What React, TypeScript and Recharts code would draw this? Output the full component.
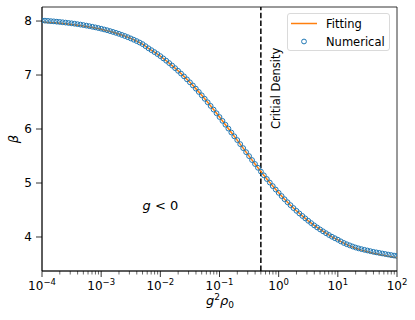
import React from 'react';
import { ComposedChart, Line, Scatter, XAxis, YAxis, ReferenceLine, ReferenceArea, ReferenceDot } from 'recharts';

// log10 of g^2 rho_0 for the fitting curve
const log10Fit = [
  -4.0, -3.9, -3.8, -3.7, -3.6, -3.5, -3.4, -3.3, -3.2, -3.1,
  -3.0, -2.9, -2.8, -2.7, -2.6, -2.5, -2.4, -2.3, -2.2, -2.1,
  -2.0, -1.9, -1.8, -1.7, -1.6, -1.5, -1.4, -1.3, -1.2, -1.1,
  -1.0, -0.9, -0.8, -0.7, -0.6, -0.5, -0.4, -0.3, -0.2, -0.1,
  0.0, 0.1, 0.2, 0.3, 0.4, 0.5, 0.6, 0.7, 0.8, 0.9,
  1.0, 1.1, 1.2, 1.3, 1.4, 1.5, 1.6, 1.7, 1.8, 1.9, 2.0,
];

const fitting = [
  7.980, 7.975, 7.968, 7.959, 7.949, 7.938, 7.924, 7.909, 7.891, 7.871,
  7.848, 7.822, 7.792, 7.759, 7.721, 7.678, 7.629, 7.573, 7.495, 7.425,
  7.350, 7.265, 7.175, 7.078, 6.975, 6.865, 6.748, 6.624, 6.495, 6.360,
  6.222, 6.080, 5.935, 5.795, 5.646, 5.498, 5.352, 5.211, 5.074, 4.943,
  4.818, 4.699, 4.589, 4.485, 4.390, 4.300, 4.215, 4.140, 4.070, 4.003,
  3.945, 3.885, 3.835, 3.792, 3.757, 3.727, 3.700, 3.677, 3.655, 3.635, 3.615,
];

// log10 of g^2 rho_0 for the numerical points
const log10Num = [
  -4.00, -3.95, -3.90, -3.85, -3.80, -3.75, -3.70, -3.65, -3.60, -3.55,
  -3.50, -3.45, -3.40, -3.35, -3.30, -3.25, -3.20, -3.15, -3.10, -3.05,
  -3.00, -2.95, -2.90, -2.85, -2.80, -2.75, -2.70, -2.65, -2.60, -2.55,
  -2.50, -2.45, -2.40, -2.35, -2.30, -2.25, -2.20, -2.15, -2.10, -2.05,
  -2.00, -1.95, -1.90, -1.85, -1.80, -1.75, -1.70, -1.65, -1.60, -1.55,
  -1.50, -1.45, -1.40, -1.35, -1.30, -1.25, -1.20, -1.15, -1.10, -1.05,
  -1.00, -0.95, -0.90, -0.85, -0.80, -0.75, -0.70, -0.65, -0.60, -0.55,
  -0.50, -0.45, -0.40, -0.35, -0.30, -0.25, -0.20, -0.15, -0.10, -0.05,
  0.00, 0.05, 0.10, 0.15, 0.20, 0.25, 0.30, 0.35, 0.40, 0.45,
  0.50, 0.55, 0.60, 0.65, 0.70, 0.75, 0.80, 0.85, 0.90, 0.95,
  1.00, 1.05, 1.10, 1.15, 1.20, 1.25, 1.30, 1.35, 1.40, 1.45,
  1.50, 1.55, 1.60, 1.65, 1.70, 1.75, 1.80, 1.85, 1.90, 1.95, 2.00,
];

const numerical = [
  8.011, 8.007, 8.003, 7.998, 7.994, 7.988, 7.983, 7.977, 7.971, 7.964,
  7.958, 7.950, 7.942, 7.934, 7.925, 7.915, 7.905, 7.894, 7.883, 7.871,
  7.858, 7.844, 7.830, 7.814, 7.798, 7.781, 7.763, 7.743, 7.723, 7.701,
  7.678, 7.654, 7.629, 7.602, 7.573, 7.534, 7.495, 7.460, 7.425, 7.389,
  7.350, 7.308, 7.265, 7.221, 7.175, 7.127, 7.078, 7.027, 6.975, 6.920,
  6.865, 6.807, 6.748, 6.687, 6.624, 6.560, 6.495, 6.428, 6.360, 6.292,
  6.222, 6.151, 6.080, 6.008, 5.935, 5.865, 5.795, 5.720, 5.646, 5.571,
  5.498, 5.425, 5.352, 5.282, 5.211, 5.142, 5.074, 5.008, 4.943, 4.879,
  4.818, 4.758, 4.699, 4.643, 4.589, 4.536, 4.485, 4.436, 4.390, 4.344,
  4.300, 4.257, 4.215, 4.177, 4.140, 4.105, 4.070, 4.037, 4.005, 3.977,
  3.950, 3.919, 3.890, 3.866, 3.845, 3.824, 3.805, 3.789, 3.775, 3.762,
  3.750, 3.737, 3.725, 3.715, 3.705, 3.695, 3.685, 3.675, 3.665, 3.656, 3.648,
];

const majorExponents = [-4, -3, -2, -1, 0, 1, 2];
const minorMultipliers = [2, 3, 4, 5, 6, 7, 8, 9];
const yTicks = [4, 5, 6, 7, 8];
const xDomain = [1e-4, 1e2];
const yDomain = [3.37, 8.26];
const criticalDensity = 0.5;

const FONT = '"DejaVu Sans", sans-serif';
const BLUE = '#1f77b4';
const ORANGE = '#ff7f0e';

const fitData = log10Fit.map((e, i) => ({ x: Math.pow(10, e), fit: fitting[i] }));
const numData = log10Num.map((e, i) => ({ x: Math.pow(10, e), num: numerical[i] }));

const majorTicks = majorExponents.map((e) => Math.pow(10, e));
const minorTicks: number[] = [];
majorExponents.slice(0, -1).forEach((e) => {
  minorMultipliers.forEach((m) => minorTicks.push(m * Math.pow(10, e)));
});
const allXTicks = [...majorTicks, ...minorTicks].sort((a, b) => a - b);

const isMajor = (v: number) => majorTicks.some((m) => Math.abs(m - v) / m < 1e-6);

const XTick = (props: any) => {
  const { x, y, payload } = props;
  const v = payload.value;
  const major = isMajor(v);
  const exp = Math.round(Math.log10(v));
  return (
    <g>
      <line x1={x} x2={x} y1={y} y2={y + (major ? 6 : 3.5)} stroke="#000" strokeWidth={major ? 0.8 : 0.6} />
      {major && (
        <text x={x} y={y + 19} textAnchor="middle" fontFamily={FONT} fontSize={12} fill="#000">
          <tspan>10</tspan>
          <tspan dy={-5.5} fontSize={8.5}>{exp < 0 ? '\u2212' + Math.abs(exp) : String(exp)}</tspan>
        </text>
      )}
    </g>
  );
};

const Circle = (props: any) => {
  const { cx, cy } = props;
  if (cx == null || cy == null) return null;
  return <circle cx={cx} cy={cy} r={2.4} fill="none" stroke={BLUE} strokeWidth={1} />;
};

const GLabel = (props: any) => {
  const { viewBox } = props;
  return (
    <text x={viewBox.x} y={viewBox.y} fontFamily={FONT} fontSize={13} fill="#000">
      <tspan fontStyle="italic">g</tspan>
      <tspan> &lt; 0</tspan>
    </text>
  );
};

const CritLabel = (props: any) => {
  const { viewBox } = props;
  const x = viewBox.x + 11;
  const y = viewBox.y;
  return (
    <text x={x} y={y} transform={`rotate(-90, ${x}, ${y})`} fontFamily={FONT} fontSize={11.5} fill="#000">
      Critial Density
    </text>
  );
};

export default function App() {
  return (
    <div style={{ position: 'absolute', left: 0, top: 0, width: 415, height: 320, background: '#fff' }}>
      <ComposedChart
        width={415}
        height={320}
        margin={{ top: 7, right: 18, bottom: 0, left: 0 }}
      >
        <XAxis
          dataKey="x"
          type="number"
          scale="log"
          domain={xDomain}
          allowDataOverflow
          ticks={allXTicks}
          interval={0}
          tick={<XTick />}
          tickLine={false}
          tickSize={0}
          tickMargin={0}
          height={49}
          axisLine={{ stroke: '#000', strokeWidth: 0.8 }}
        />
        <YAxis
          type="number"
          domain={yDomain}
          allowDataOverflow
          ticks={yTicks}
          width={42}
          tickSize={6}
          tickMargin={4}
          axisLine={{ stroke: '#000', strokeWidth: 0.8 }}
          tickLine={{ stroke: '#000', strokeWidth: 0.8 }}
          tick={{ fontFamily: FONT, fontSize: 12, fill: '#000' }}
        />
        <ReferenceArea
          x1={xDomain[0]}
          x2={xDomain[1]}
          y1={yDomain[0]}
          y2={yDomain[1]}
          fill="none"
          stroke="#000"
          strokeWidth={0.8}
          ifOverflow="visible"
        />
        <ReferenceLine x={criticalDensity} stroke="#000" strokeWidth={1.5} strokeDasharray="5.5 2.4" />
        <Scatter data={numData} dataKey="num" shape={<Circle />} isAnimationActive={false} />
        <Line data={fitData} dataKey="fit" stroke={ORANGE} strokeWidth={1.5} dot={false} isAnimationActive={false} />
        <ReferenceDot x={0.005} y={4.5} r={0.01} fill="none" stroke="none" label={<GLabel />} />
        <ReferenceDot x={0.7} y={6} r={0.01} fill="none" stroke="none" label={<CritLabel />} />
      </ComposedChart>
      <svg style={{ position: 'absolute', left: 0, top: 0, pointerEvents: 'none' }} width={415} height={320}>
        <rect x={287.5} y={13.5} width={102} height={37} rx={2.5} fill="#fff" fillOpacity={0.8} stroke="#d0d0d0" strokeWidth={0.8} />
        <line x1={291} x2={317} y1={23.5} y2={23.5} stroke={ORANGE} strokeWidth={1.5} />
        <text x={326} y={27.5} fontFamily={FONT} fontSize={11.5} fill="#000">Fitting</text>
        <circle cx={304} cy={41.5} r={2.4} fill="none" stroke={BLUE} strokeWidth={1} />
        <text x={326} y={45.5} fontFamily={FONT} fontSize={11.5} fill="#000">Numerical</text>
        <text x={220} y={305} textAnchor="middle" fontFamily={FONT} fontSize={13} fill="#000">
          <tspan fontStyle="italic">g</tspan>
          <tspan dy={-5} fontSize={9}>2</tspan>
          <tspan dy={5} fontStyle="italic">ρ</tspan>
          <tspan dy={3} fontSize={9}>0</tspan>
        </text>
        <text x={18} y={139} transform="rotate(-90, 18, 139)" textAnchor="middle" fontFamily={FONT} fontSize={13} fontStyle="italic" fill="#000">β</text>
      </svg>
    </div>
  );
}
